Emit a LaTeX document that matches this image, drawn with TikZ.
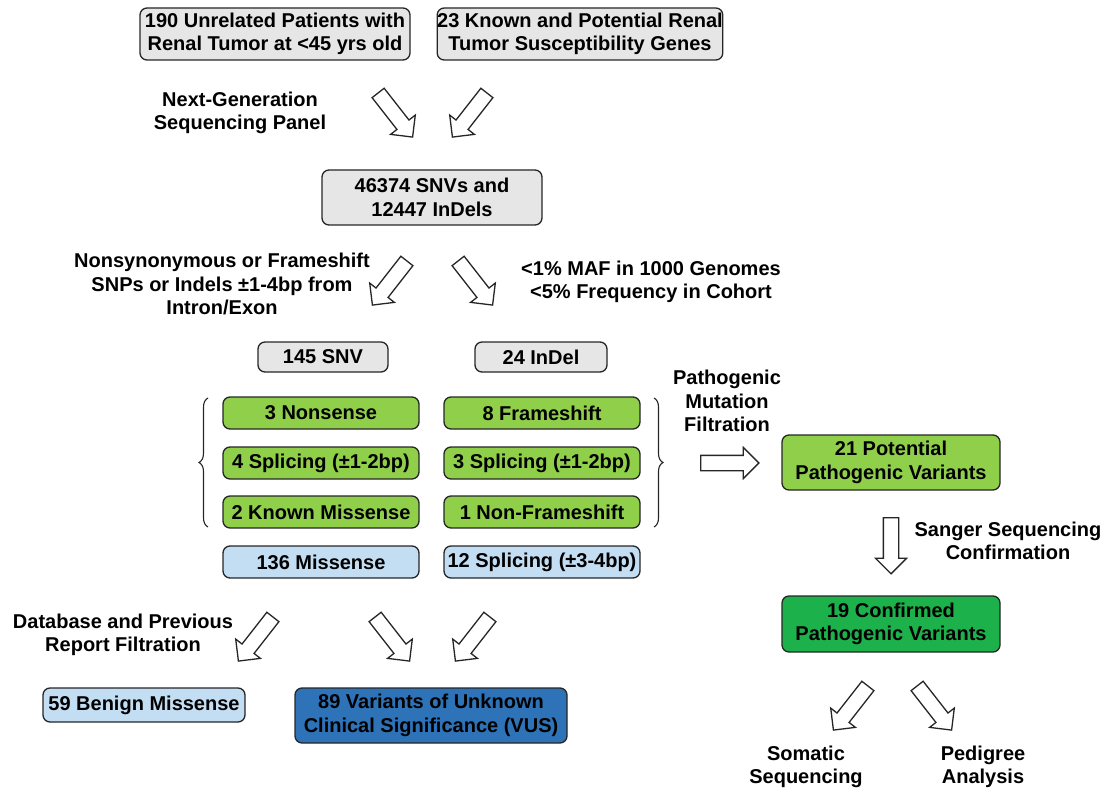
\documentclass[tikz,border=0pt]{standalone}
\usepackage{fontspec}
\setmainfont{Liberation Sans}
\usetikzlibrary{shapes.arrows,decorations.pathreplacing}
\definecolor{boxgray}{HTML}{E6E6E6}
\definecolor{lgreen}{HTML}{8FCF4A}
\definecolor{dgreen}{HTML}{1DB14B}
\definecolor{lblue}{HTML}{C3DDF3}
\definecolor{dblue}{HTML}{2E73B8}
\definecolor{edge}{HTML}{262626}
\begin{document}
\begin{tikzpicture}[x=1pt,y=-1pt,
  font=\fontsize{20}{23.5}\selectfont\bfseries,
  box/.style={draw=edge, line width=1.3pt, rounded corners=7pt, align=center, inner sep=0pt},
  gbox/.style={box, fill=boxgray},
  grbox/.style={box, fill=lgreen, minimum width=196pt, minimum height=32pt},
  lbbox/.style={box, fill=lblue, minimum height=32pt},
  harr/.style={single arrow, draw=edge, line width=1.3pt, fill=white, inner xsep=0pt, inner ysep=7pt,
    text height=0pt, text depth=0pt, minimum height=56pt, single arrow head extend=8pt,
    single arrow head indent=0pt},
  lbl/.style={align=center, inner sep=0pt},
  bracestyle/.style={draw=edge, line width=1.1pt, decorate, decoration={brace, amplitude=9pt}}]
\useasboundingbox (0,0) rectangle (1113,794);

% top boxes
\node[gbox, minimum width=270pt, minimum height=52pt] (pat) at (275,34) {190 Unrelated Patients with\\Renal Tumor at <45 yrs old};
\node[gbox, minimum width=270pt, minimum height=52pt] (genes) at (580,34) {23 Known and Potential Renal\\Tumor Susceptibility Genes};
\node[lbl] (ngs) at (240,113) {Next-Generation\\Sequencing Panel};
\node[harr, rotate=-52] (a1) at (393,112) {};
\node[harr, rotate=-128] (a2) at (472,112) {};

\node[gbox, minimum width=220pt, minimum height=55pt] (snvs) at (432,197.5) {46374 SNVs and\\12447 InDels};

\node[lbl] (nonsyn) at (222,284) {Nonsynonymous or Frameshift\\SNPs or Indels \textpm1-4bp from\\Intron/Exon};
\node[harr, rotate=-128] (a3) at (392,280) {};
\node[harr, rotate=-52] (a4) at (473,280) {};
\node[lbl] (maf) at (651,282) {<1\% MAF in 1000 Genomes\\<5\% Frequency in Cohort};

\node[gbox, minimum width=130pt, minimum height=30pt] (snv) at (323,357) {145 SNV};
\node[gbox, minimum width=132pt, minimum height=30pt] (indel) at (541,357) {24 InDel};

% green boxes
\node[grbox] (nons) at (321,413) {3 Nonsense};
\node[grbox] (fs) at (542,413) {8 Frameshift};
\node[grbox] (spl1) at (321,463) {4 Splicing (\textpm1-2bp)};
\node[grbox] (spl2) at (542,463) {3 Splicing (\textpm1-2bp)};
\node[grbox] (kmis) at (321,512) {2 Known Missense};
\node[grbox] (nfs) at (542,512) {1 Non-Frameshift};

\node[lbbox, minimum width=196pt] (mis) at (321,562) {136 Missense};
\node[lbbox, minimum width=196pt] (spl3) at (542,562) {12 Splicing (\textpm3-4bp)};

% braces
\coordinate (lbT) at (208,398);
\coordinate (lbB) at (208,527);
\coordinate (rbT) at (654,398);
\coordinate (rbB) at (654,527);
\draw[bracestyle] (lbB) -- (lbT);
\draw[bracestyle] (rbT) -- (rbB);

\node[lbl] (pmf) at (727,401) {Pathogenic\\Mutation\\Filtration};
\node[harr, rotate=0, minimum height=58pt] (a5) at (726,463) {};

\node[box, fill=lgreen, minimum width=218pt, minimum height=55pt] (pot) at (891,462.5) {21 Potential\\Pathogenic Variants};
\node[harr, rotate=-90] (a6) at (891,542) {};
\node[lbl] (sanger) at (1008,541) {Sanger Sequencing\\Confirmation};
\node[box, fill=dgreen, minimum width=218pt, minimum height=56pt] (conf) at (891,624) {19 Confirmed\\Pathogenic Variants};
\node[harr, rotate=-128] (a7) at (853,705) {};
\node[harr, rotate=-52] (a8) at (932,705) {};
\node[lbl] (som) at (806,767) {Somatic\\Sequencing};
\node[lbl] (ped) at (983,767) {Pedigree\\Analysis};

% bottom left
\node[lbl] (db) at (123,635) {Database and Previous\\Report Filtration};
\node[harr, rotate=-128] (a9) at (258,636) {};
\node[harr, rotate=-52] (a10) at (390,636) {};
\node[harr, rotate=-128] (a11) at (475,636) {};

\node[lbbox, minimum width=202pt, minimum height=34pt] (benign) at (144,705) {59 Benign Missense};
\node[box, fill=dblue, minimum width=272pt, minimum height=55pt] (vus) at (431,715.5) {89 Variants of Unknown\\Clinical Significance (VUS)};
\end{tikzpicture}
\end{document}
